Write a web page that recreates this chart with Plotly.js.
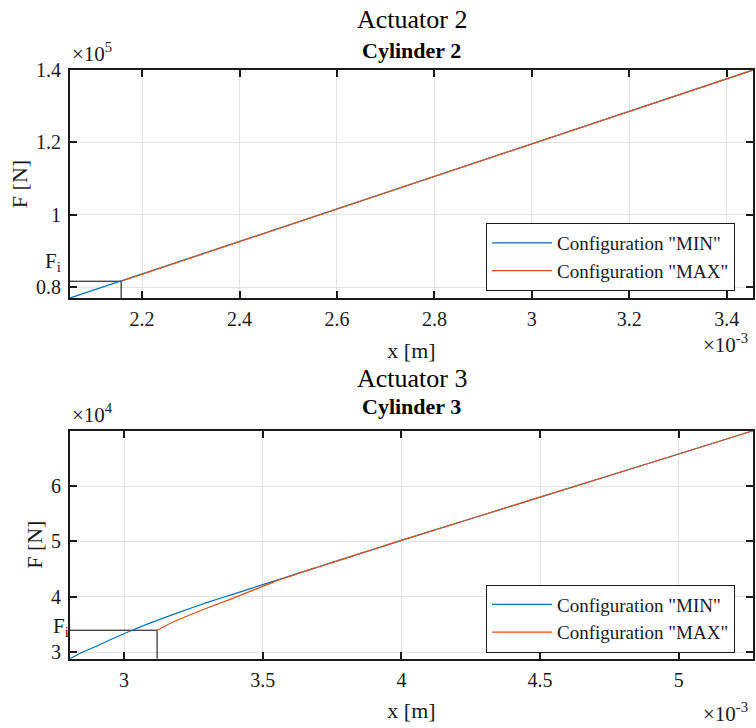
<!DOCTYPE html>
<html>
<head>
<meta charset="utf-8">
<script src="https://cdn.plot.ly/plotly-3.0.1.min.js"></script>
<style>html,body{margin:0;padding:0;background:#fff}#chart{width:756px;height:728px}</style>
</head>
<body>
<div id="chart"></div>
<script>
// ---- Data (x in 1e-3 m, F in 1e5 N for cylinder 2, 1e4 N for cylinder 3) ----
const seriesNames = ['Configuration "MIN"', 'Configuration "MAX"'];

// Cylinder 2
const x2Min = [2.052, 2.8, 3.454];
const F2Min = [0.7696, 1.106, 1.40];
const x2Max = [2.157, 2.8, 3.454];
const F2Max = [0.816, 1.106, 1.40];
const x2Fi = [2.052, 2.157, 2.157];
const F2Fi = [0.816, 0.816, 0.7696];
const Fi2 = 0.816;
const x2Ticks = [2.2, 2.4, 2.6, 2.8, 3.0, 3.2, 3.4];
const x2TickText = ['2.2', '2.4', '2.6', '2.8', '3', '3.2', '3.4'];
const F2Ticks = [0.8, 1.0, 1.2, 1.4];
const F2TickText = ['0.8', '1', '1.2', '1.4'];

// Cylinder 3
const x3Min = [2.805, 2.85, 2.9, 2.95, 3.0, 3.05, 3.1, 3.2, 3.3, 3.4, 3.5, 3.6, 3.65, 3.7, 3.8, 3.9, 4.0, 4.5, 5.0, 5.268];
const F3Min = [2.884, 3.0, 3.11, 3.225, 3.335, 3.44, 3.54, 3.725, 3.90, 4.06, 4.22, 4.38, 4.46, 4.54, 4.70, 4.86, 5.02, 5.80, 6.58, 7.0];
const x3Max = [3.119, 3.15, 3.2, 3.25, 3.3, 3.35, 3.4, 3.45, 3.5, 3.55, 3.6, 3.65, 3.7, 3.8, 3.9, 4.0, 4.5, 5.0, 5.268];
const F3Max = [3.398, 3.48, 3.595, 3.70, 3.80, 3.895, 3.99, 4.09, 4.19, 4.29, 4.375, 4.46, 4.54, 4.70, 4.86, 5.02, 5.80, 6.58, 7.0];
const x3Fi = [2.805, 3.119, 3.119];
const F3Fi = [3.398, 3.398, 2.884];
const Fi3 = 3.398;
const x3Ticks = [3.0, 3.5, 4.0, 4.5, 5.0];
const x3TickText = ['3', '3.5', '4', '4.5', '5'];
const F3Ticks = [3, 4, 5, 6];
const F3TickText = ['3', '4', '5', '6'];

const blue = '#0072BD', orange = '#D95319';
const FONT = 'Liberation Serif, Times New Roman, serif';
const AXC = '#1a1a1a';

const traces = [
  {x: x2Fi, y: F2Fi, xaxis: 'x', yaxis: 'y', mode: 'lines', line: {color: '#000', width: 1}, showlegend: false, hoverinfo: 'skip'},
  {x: x2Min, y: F2Min, xaxis: 'x', yaxis: 'y', mode: 'lines', name: seriesNames[0], line: {color: blue, width: 1.2}, legend: 'legend'},
  {x: x2Max, y: F2Max, xaxis: 'x', yaxis: 'y', mode: 'lines', name: seriesNames[1], line: {color: orange, width: 1.2}, legend: 'legend'},
  {x: x3Fi, y: F3Fi, xaxis: 'x2', yaxis: 'y2', mode: 'lines', line: {color: '#000', width: 1}, showlegend: false, hoverinfo: 'skip'},
  {x: x3Min, y: F3Min, xaxis: 'x2', yaxis: 'y2', mode: 'lines', name: seriesNames[0], line: {color: blue, width: 1.2, shape: 'spline', smoothing: 0.6}, legend: 'legend2'},
  {x: x3Max, y: F3Max, xaxis: 'x2', yaxis: 'y2', mode: 'lines', name: seriesNames[1], line: {color: orange, width: 1.2, shape: 'spline', smoothing: 0.6}, legend: 'legend2'}
];

const W = 756, H = 728;
const xDom = [70 / W, 753 / W];
const y1Dom = [1 - 298 / H, 1 - 70 / H];
const y2Dom = [1 - 658.7 / H, 1 - 430.7 / H];

function axisBase() {
  return {
    showline: true, linecolor: AXC, linewidth: 2, mirror: 'ticks',
    ticks: 'inside', ticklen: 7, tickwidth: 2, tickcolor: AXC,
    showgrid: true, gridcolor: '#e3e3e3', gridwidth: 1, zeroline: false,
    tickfont: {family: FONT, size: 20, color: AXC},
    tickmode: 'array', fixedrange: true
  };
}
const titleFont = {family: FONT, size: 22, color: AXC};

const layout = {
  width: W, height: H,
  margin: {l: 0, r: 0, t: 0, b: 0},
  paper_bgcolor: '#fff', plot_bgcolor: '#fff',
  font: {family: FONT, color: AXC},
  xaxis: Object.assign(axisBase(), {domain: xDom, anchor: 'y', range: [2.052, 3.454], tickvals: x2Ticks, ticktext: x2TickText, ticklabelstandoff: 2,
    title: {text: 'x [m]', font: titleFont, standoff: 14}}),
  yaxis: Object.assign(axisBase(), {domain: y1Dom, anchor: 'x', range: [0.7696, 1.40], tickvals: F2Ticks, ticktext: F2TickText, ticklabelstandoff: 3,
    title: {text: 'F [N]', font: titleFont, standoff: 2}}),
  xaxis2: Object.assign(axisBase(), {domain: xDom, anchor: 'y2', range: [2.805, 5.268], tickvals: x3Ticks, ticktext: x3TickText, ticklabelstandoff: 2,
    title: {text: 'x [m]', font: titleFont, standoff: 13}}),
  yaxis2: Object.assign(axisBase(), {domain: y2Dom, anchor: 'x2', range: [2.884, 7.0], tickvals: F3Ticks, ticktext: F3TickText, ticklabelstandoff: 3,
    title: {text: 'F [N]', font: titleFont, standoff: 2}}),
  legend: {x: 486 / W, y: 1 - 257 / H, xanchor: 'left', yanchor: 'middle', bgcolor: '#fff', bordercolor: AXC, borderwidth: 1,
    font: {family: FONT, size: 19, color: AXC}, itemwidth: 60, tracegroupgap: 0},
  legend2: {x: 486 / W, y: 1 - 618.5 / H, xanchor: 'left', yanchor: 'middle', bgcolor: '#fff', bordercolor: AXC, borderwidth: 1,
    font: {family: FONT, size: 19, color: AXC}, itemwidth: 60, tracegroupgap: 0},
  annotations: [
    {text: 'Actuator 2', xref: 'paper', yref: 'paper', x: 411.5 / W, y: 1 - 19 / H, xanchor: 'center', yanchor: 'middle', showarrow: false, font: {family: FONT, size: 26, color: '#000'}},
    {text: '<b>Cylinder 2</b>', xref: 'paper', yref: 'paper', x: 411.5 / W, y: 1 - 51 / H, xanchor: 'center', yanchor: 'middle', showarrow: false, font: {family: FONT, size: 22, color: '#000'}},
    {text: 'Actuator 3', xref: 'paper', yref: 'paper', x: 411.5 / W, y: 1 - 378 / H, xanchor: 'center', yanchor: 'middle', showarrow: false, font: {family: FONT, size: 26, color: '#000'}},
    {text: '<b>Cylinder 3</b>', xref: 'paper', yref: 'paper', x: 411.5 / W, y: 1 - 406 / H, xanchor: 'center', yanchor: 'middle', showarrow: false, font: {family: FONT, size: 22, color: '#000'}},
    {text: '×10<sup>5</sup>', xref: 'paper', yref: 'paper', x: 70 / W, y: 1 - 68 / H, xanchor: 'left', yanchor: 'bottom', showarrow: false, font: {family: FONT, size: 21, color: AXC}},
    {text: '×10<sup>4</sup>', xref: 'paper', yref: 'paper', x: 70 / W, y: 1 - 429 / H, xanchor: 'left', yanchor: 'bottom', showarrow: false, font: {family: FONT, size: 21, color: AXC}},
    {text: '×10<sup>-3</sup>', xref: 'paper', yref: 'paper', x: 701 / W, y: 1 - 359 / H, xanchor: 'left', yanchor: 'bottom', showarrow: false, font: {family: FONT, size: 21, color: AXC}},
    {text: '×10<sup>-3</sup>', xref: 'paper', yref: 'paper', x: 701 / W, y: 1 - 728 / H, xanchor: 'left', yanchor: 'bottom', showarrow: false, font: {family: FONT, size: 21, color: AXC}},
    {text: 'F<sub>i</sub>', xref: 'paper', yref: 'y', x: 63 / W, y: Fi2, yshift: 19, xanchor: 'right', yanchor: 'middle', showarrow: false, font: {family: FONT, size: 21, color: AXC}},
    {text: 'F<sub>i</sub>', xref: 'paper', yref: 'y2', x: 71 / W, y: Fi3, yshift: 3, xanchor: 'right', yanchor: 'middle', showarrow: false, font: {family: FONT, size: 21, color: AXC}}
  ]
};

Plotly.newPlot('chart', traces, layout, {staticPlot: true, displayModeBar: false});
</script>
</body>
</html>
